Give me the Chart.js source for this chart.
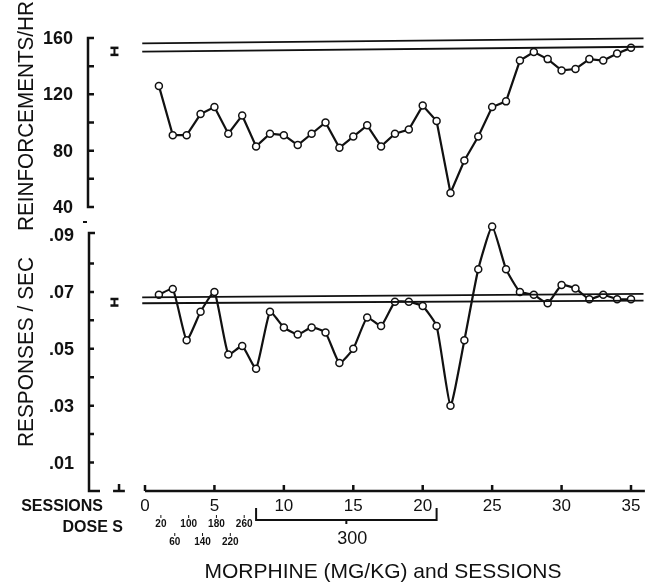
<!DOCTYPE html>
<html>
<head>
<meta charset="utf-8">
<script src="https://cdn.jsdelivr.net/npm/chart.js@4.4.0/dist/chart.umd.min.js"></script>
<style>
  html, body { margin: 0; padding: 0; background: #fff; }
  #wrap { width: 657px; height: 583px; }
</style>
</head>
<body>
<div id="wrap"><canvas id="chart" width="657" height="583"></canvas></div>
<script>
// sessions and the two measures
const sessions = [1, 2, 3, 4, 5, 6, 7, 8, 9, 10, 11, 12, 13, 14, 15, 16, 17, 18, 19, 20,
                  21, 22, 23, 24, 25, 26, 27, 28, 29, 30, 31, 32, 33, 34, 35];
const reinforcements = [126, 91, 91, 106, 111, 92, 105, 83, 92, 91, 84, 92, 100, 82, 90, 98, 83, 92, 95, 112,
                        101, 50, 73, 90, 111, 115, 144, 150, 145, 137, 138, 145, 144, 149, 153];
const responses = [0.069, 0.071, 0.053, 0.063, 0.070, 0.048, 0.051, 0.043, 0.063, 0.0575,
                   0.055, 0.0575, 0.0557, 0.045, 0.050, 0.061, 0.058, 0.0665, 0.0665, 0.065,
                   0.058, 0.030, 0.053, 0.078, 0.093, 0.078, 0.070, 0.069, 0.066, 0.0724,
                   0.0712, 0.0674, 0.069, 0.0674, 0.0674];

// baseline band (two hand-ruled lines per panel) and baseline mean marks
const bandSessions = [-0.2, 35.9];
const topBandUpper = [156.2, 159.8];
const topBandLower = [150.3, 153.8];
const botBandUpper = [0.0681, 0.0693];
const botBandLower = [0.0660, 0.0669];
const baseMarkSession = -2.2;
const topBaseMark = [148, 153];
const botBaseMark = [0.0652, 0.0675];

// axis ticks
const topTicks = [160, 120, 80, 40];
const topMinor = [140, 120, 100, 80, 60];
const botTicks = [0.09, 0.07, 0.05, 0.03, 0.01];
const botMinor = [0.08, 0.07, 0.06, 0.05, 0.04, 0.03, 0.02, 0.01];
const sessionTicks = [0, 5, 10, 15, 20, 25, 30, 35];

// morphine doses
const doseSessions = [1, 2, 3, 4, 5, 6, 7];
const doseLabels = ['20', '60', '100', '140', '180', '220', '260'];
const maxDoseRange = [8, 21];
const maxDoseLabel = '300';

const FONT = '"Liberation Sans", Arial, sans-serif';

function pts(xs, ys) {
    return xs.map((x, i) => ({ x: x, y: ys[i] }));
}

const bandStyle = {
    borderColor: '#111', borderWidth: 1.8, pointRadius: 0, showLine: true, fill: false, clip: false
};
const markStyle = {
    borderColor: '#111', borderWidth: 2, showLine: true, pointStyle: 'line',
    pointRadius: 4, pointBorderWidth: 2.5, pointBorderColor: '#111', clip: false
};
const curveStyle = {
    borderColor: '#111', borderWidth: 2.2, pointRadius: 3.5, pointBorderWidth: 1.5,
    pointBackgroundColor: '#fff', pointBorderColor: '#111', showLine: true, fill: false, clip: false
};

// hand-drawn style axes and lettering, placed through the chart scales
const handAxes = {
    id: 'handAxes',
    afterDraw(chart) {
        const ctx = chart.ctx;
        const x = chart.scales.x, yTop = chart.scales.yTop, yBot = chart.scales.yBot;
        const axX = chart.chartArea.left;
        const X = v => x.getPixelForValue(v);
        const YT = v => yTop.getPixelForValue(v);
        const YB = v => yBot.getPixelForValue(v);

        ctx.save();
        ctx.strokeStyle = '#111';
        ctx.fillStyle = '#111';
        ctx.lineWidth = 2.5;

        // top y axis
        ctx.beginPath();
        ctx.moveTo(axX + 5, YT(160));
        ctx.lineTo(axX - 1, YT(160));
        ctx.lineTo(axX - 1, YT(40));
        ctx.lineTo(axX + 5, YT(40));
        topMinor.forEach(v => { ctx.moveTo(axX - 1, YT(v)); ctx.lineTo(axX + 5, YT(v)); });
        ctx.stroke();

        // bottom y axis
        ctx.beginPath();
        ctx.moveTo(axX + 6, YB(0.09) - 2);
        ctx.lineTo(axX, YB(0.09) - 2);
        ctx.lineTo(axX, YB(0));
        ctx.lineTo(axX + 11, YB(0));
        botMinor.forEach(v => { ctx.moveTo(axX, YB(v)); ctx.lineTo(axX + 5, YB(v)); });
        ctx.stroke();
        ctx.fillRect(axX - 6, 221, 4, 2);

        // x axis
        const y0 = YB(0);
        ctx.beginPath();
        ctx.moveTo(X(0), y0);
        ctx.lineTo(X(36), y0);
        sessionTicks.forEach(s => { ctx.moveTo(X(s), y0); ctx.lineTo(X(s), y0 - 6); });
        ctx.moveTo(X(-2.3), y0);
        ctx.lineTo(X(-1.45), y0);
        ctx.moveTo(X(-1.87), y0);
        ctx.lineTo(X(-1.87), y0 - 7);
        ctx.stroke();

        // y tick labels
        ctx.font = 'bold 18px ' + FONT;
        ctx.textAlign = 'right';
        ctx.textBaseline = 'middle';
        topTicks.forEach(v => ctx.fillText(String(v), axX - 16, YT(v) + 1));
        botTicks.forEach(v => ctx.fillText(v.toFixed(2).replace(/^0/, ''), axX - 15, YB(v) + 1));

        // x tick labels
        ctx.font = '17px ' + FONT;
        ctx.textAlign = 'center';
        sessionTicks.forEach(s => ctx.fillText(String(s), X(s), y0 + 15));

        ctx.font = 'bold 16px ' + FONT;
        ctx.textAlign = 'right';
        ctx.fillText('SESSIONS', 103, y0 + 16, 86);
        ctx.fillText('DOSE S', 123, y0 + 37, 66);

        // dose labels, alternating rows
        ctx.font = 'bold 10px ' + FONT;
        ctx.textAlign = 'center';
        ctx.lineWidth = 1;
        doseSessions.forEach((s, i) => {
            const ly = i % 2 === 0 ? y0 + 33 : y0 + 51;
            ctx.fillText(doseLabels[i], X(s) + 2, ly);
            ctx.beginPath();
            ctx.moveTo(X(s) + 2, ly - 9);
            ctx.lineTo(X(s) + 2, ly - 6);
            ctx.stroke();
        });

        // bracket for the 300 mg/kg sessions
        const bY = y0 + 29;
        const midS = (maxDoseRange[0] + maxDoseRange[1]) / 2;
        ctx.lineWidth = 2;
        ctx.beginPath();
        ctx.moveTo(X(maxDoseRange[0]), bY - 12);
        ctx.lineTo(X(maxDoseRange[0]), bY);
        ctx.lineTo(X(maxDoseRange[1]), bY);
        ctx.lineTo(X(maxDoseRange[1]), bY - 12);
        ctx.moveTo(X(midS), bY);
        ctx.lineTo(X(midS), bY + 4);
        ctx.stroke();
        ctx.font = '18px ' + FONT;
        ctx.fillText(maxDoseLabel, X(midS) + 6, y0 + 48);

        // axis title
        ctx.font = '21px ' + FONT;
        ctx.fillText('MORPHINE (MG/KG) and SESSIONS', 383, y0 + 81, 357);

        // rotated y titles
        ctx.textBaseline = 'alphabetic';
        ctx.font = '22px ' + FONT;
        ctx.save();
        ctx.translate(33, 116);
        ctx.rotate(-Math.PI / 2);
        ctx.fillText('REINFORCEMENTS/HR', 0, 0, 230);
        ctx.restore();
        ctx.save();
        ctx.translate(33, 352);
        ctx.rotate(-Math.PI / 2);
        ctx.fillText('RESPONSES / SEC', 0, 0, 190);
        ctx.restore();

        ctx.restore();
    }
};

document.addEventListener('DOMContentLoaded', function() {
    const ctx = document.getElementById('chart');
    new Chart(ctx, {
        type: 'scatter',
        data: {
            datasets: [
                Object.assign({ yAxisID: 'yTop', data: pts(bandSessions, topBandUpper) }, bandStyle),
                Object.assign({ yAxisID: 'yTop', data: pts(bandSessions, topBandLower) }, bandStyle),
                Object.assign({ yAxisID: 'yBot', data: pts(bandSessions, botBandUpper) }, bandStyle),
                Object.assign({ yAxisID: 'yBot', data: pts(bandSessions, botBandLower) }, bandStyle),
                Object.assign({ yAxisID: 'yTop', data: pts([baseMarkSession, baseMarkSession], topBaseMark) }, markStyle),
                Object.assign({ yAxisID: 'yBot', data: pts([baseMarkSession, baseMarkSession], botBaseMark) }, markStyle),
                Object.assign({ label: 'Reinforcements/hr', yAxisID: 'yTop', tension: 0,
                                data: pts(sessions, reinforcements) }, curveStyle),
                Object.assign({ label: 'Responses/sec', yAxisID: 'yBot', tension: 0.15,
                                data: pts(sessions, responses) }, curveStyle)
            ]
        },
        options: {
            responsive: false,
            animation: false,
            layout: { padding: { left: 89, right: 7, top: 30, bottom: 92 } },
            plugins: {
                legend: { display: false },
                tooltip: { enabled: false }
            },
            scales: {
                x: { type: 'linear', min: -4.033, max: 36.368, display: false },
                yTop: { type: 'linear', position: 'left', min: -161.67, max: 165.68, display: false },
                yBot: { type: 'linear', position: 'left', min: 0, max: 0.16207, display: false }
            }
        },
        plugins: [handAxes]
    });
});
</script>
</body>
</html>
